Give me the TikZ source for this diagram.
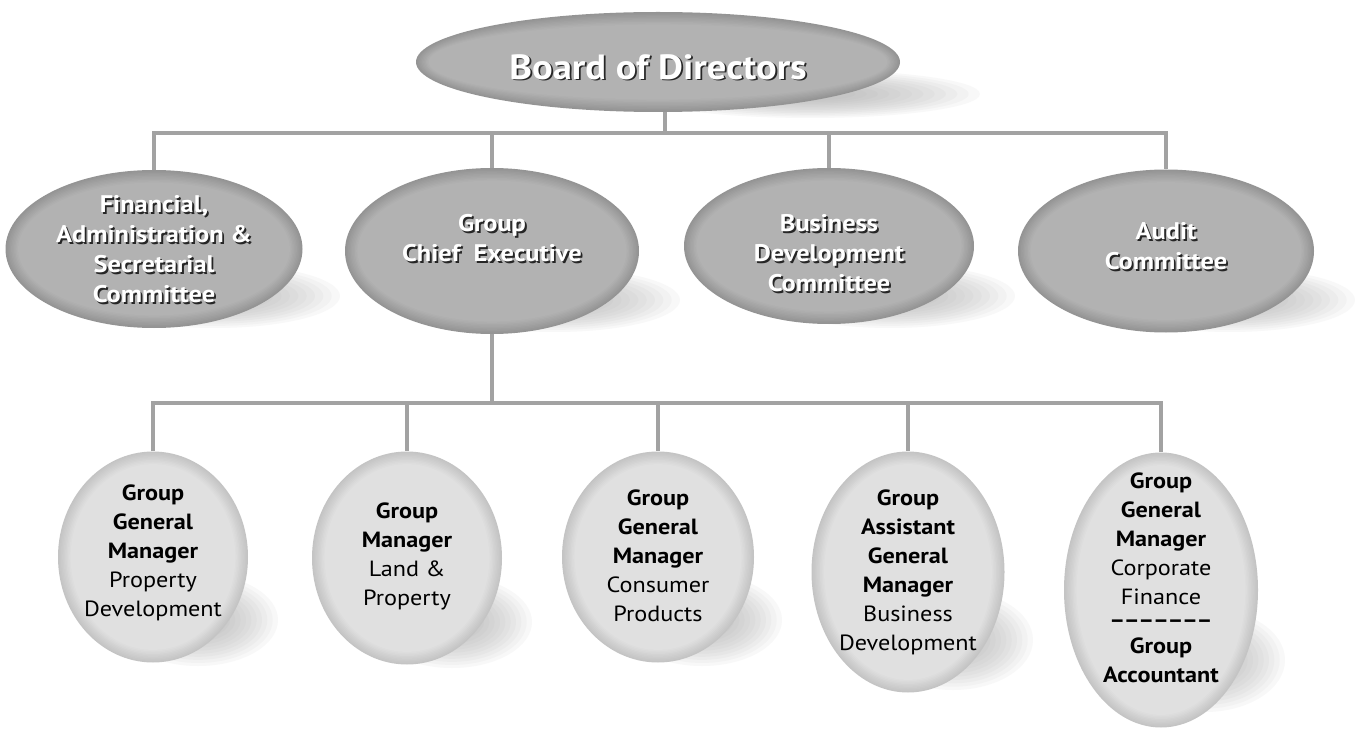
\documentclass[tikz,border=0pt]{standalone}
\usepackage{fontspec}
\setmainfont{PT Sans}[FakeStretch=1.1]
\usetikzlibrary{shapes.geometric}

% palette
\definecolor{linegray}{RGB}{162,162,162}
\definecolor{darkin}{RGB}{182,182,182}
\definecolor{darkout}{RGB}{148,148,148}
\definecolor{lightin}{RGB}{227,227,227}
\definecolor{lightout}{RGB}{196,196,196}
\definecolor{shadowgray}{RGB}{160,160,160}

\tikzset{
  conn/.style={draw=linegray, line width=4.5pt, line join=miter},
  bubble/.style={ellipse, inner sep=0pt},
  embtext/.style={text=white, align=center, inner sep=0pt},
  embshadow/.style={embtext, text=black!85},
  toptext/.style={font=\bfseries\fontsize{35}{38}\selectfont},
  midtext/.style={font=\bfseries\fontsize{24}{30}\selectfont},
  lowtext/.style={align=center, inner sep=0pt, text=black, font=\fontsize{22}{29}\selectfont},
}

% a bubble: graded rim, flat centre, plus a named ellipse node on top
\newcommand\bubble[7]{% name, x, y, width, height, inner colour, outer colour
  \foreach \k in {0,...,9}{
    \pgfmathsetmacro\mix{\k*10}
    \fill[#6!\mix!#7] (#2,#3) ellipse [x radius={#4/2-\k*1.4}, y radius={#5/2-\k*1.4}];
  }
  \node[bubble, minimum width=#4pt, minimum height=#5pt] (#1) at (#2,#3) {};
}
% soft cast shadow below and right of a bubble
\newcommand\castshadow[4]{% x, y, x radius, y radius
  \foreach \k in {0,...,11}{
    \fill[shadowgray, opacity=0.065] (#1,#2) ellipse [x radius={#3*(1-\k/15)}, y radius={#4*(1-\k/15)}];
  }
}
% white lettering with a dark drop shadow
\newcommand\embossednode[5]{% style, name, bubble, vertical offset, text
  \node[embshadow, #1] at ([shift={(1.8,#4+1.8)}]#3.center) {#5};
  \node[embtext, #1] (#2) at ([shift={(0,#4)}]#3.center) {#5};
}

\begin{document}
\begin{tikzpicture}[x=1pt, y=-1pt]
\useasboundingbox[fill=white] (0,0) rectangle (1363,730);

% cast shadows
\castshadow{810}{94}{170}{24}
\castshadow{215}{296}{125}{32}
\castshadow{555}{300}{125}{32}
\castshadow{890}{296}{125}{32}
\castshadow{1230}{300}{125}{32}
\castshadow{198}{620}{80}{46}
\castshadow{452}{622}{80}{46}
\castshadow{702}{620}{80}{46}
\castshadow{953}{640}{80}{50}
\castshadow{1205}{660}{80}{52}

% bubbles
\bubble{board}{658}{62}{484}{100}{darkin}{darkout}
\bubble{fin}{154}{249}{297}{158}{darkin}{darkout}
\bubble{gce}{492}{251}{294}{166}{darkin}{darkout}
\bubble{bdc}{829}{246}{290}{156}{darkin}{darkout}
\bubble{audit}{1166}{251}{296}{163}{darkin}{darkout}

\bubble{pd}{153}{557}{190}{211}{lightin}{lightout}
\bubble{lp}{407}{558}{190}{213}{lightin}{lightout}
\bubble{cp}{658}{557}{192}{211}{lightin}{lightout}
\bubble{agm}{908}{572}{193}{241}{lightin}{lightout}
\bubble{cf}{1161}{590}{194}{275}{lightin}{lightout}

% bus junctions
\coordinate (topbus) at (665,133);
\coordinate (lowbus) at (491,403);

% connectors
\draw[conn] (board.south -| topbus) -- (topbus);
\draw[conn] (fin) -- (fin |- topbus) -- (audit |- topbus) -- (audit);
\draw[conn] (gce |- topbus) -- (gce);
\draw[conn] (bdc |- topbus) -- (bdc);
\draw[conn] (gce) -- (gce |- lowbus);
\draw[conn] (pd) -- (pd |- lowbus) -- (cf |- lowbus) -- (cf);
\draw[conn] (lp |- lowbus) -- (lp);
\draw[conn] (cp |- lowbus) -- (cp);
\draw[conn] (agm |- lowbus) -- (agm);

% upper labels
\embossednode{toptext}{boardtxt}{board}{5}{Board of Directors}
\embossednode{midtext}{fintxt}{fin}{0}{Financial,\\Administration \&\\Secretarial\\Committee}
\embossednode{midtext}{gcetxt}{gce}{-13}{Group\\Chief\ \ Executive}
\embossednode{midtext}{bdctxt}{bdc}{7}{Business\\Development\\Committee}
\embossednode{midtext}{audittxt}{audit}{-5}{Audit\\Committee}

% lower labels
\node[lowtext] (pdtxt) at ([yshift=4pt]pd.center) {\textbf{Group}\\\textbf{General}\\\textbf{Manager}\\Property\\Development};
\node[lowtext] (lptxt) at ([yshift=2pt]lp.center) {\textbf{Group}\\\textbf{Manager}\\Land \&\\Property};
\node[lowtext] (cptxt) at ([yshift=1pt]cp.center) {\textbf{Group}\\\textbf{General}\\\textbf{Manager}\\Consumer\\Products};
\node[lowtext] (agmtxt) at (agm.center) {\textbf{Group}\\\textbf{Assistant}\\\textbf{General}\\\textbf{Manager}\\Business\\Development};
\node[lowtext] (cftxt) at ([yshift=12pt]cf.center) {\textbf{Group}\\\textbf{General}\\\textbf{Manager}\\Corporate\\Finance\\[-6pt]\textbf{–––––––}\\[-3pt]\textbf{Group}\\\textbf{Accountant}};
\end{tikzpicture}
\end{document}
